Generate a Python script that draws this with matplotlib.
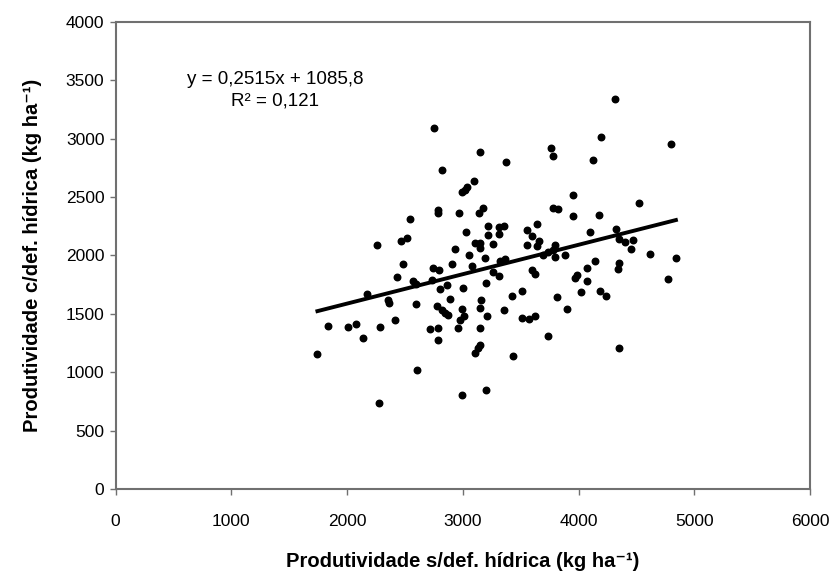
import numpy as np
import matplotlib
matplotlib.use('Agg')
import matplotlib.pyplot as plt

plt.rcParams['font.family'] = ['Liberation Sans', 'DejaVu Sans']

# produtividade sem deficit hidrico (x) e com deficit hidrico (y), kg/ha
sem_def = [1744, 1839, 2011, 2078, 2136, 2175, 2262, 2274, 2285, 2357,
           2366, 2415, 2435, 2464, 2487, 2516, 2544, 2573, 2596, 2596,
           2607, 2717, 2732, 2746, 2775, 2781, 2789, 2798, 2803, 2818,
           2847, 2875, 2752, 2818, 2781, 2781, 2968, 2995, 3015, 3035,
           3097, 3149, 3143, 3178, 4315, 3374, 3760, 3777, 4194, 4128,
           3955, 4517, 3777, 3826, 3955, 4175, 4800, 3025, 3221, 3221,
           3308, 3356, 3308, 3106, 3149, 3149, 3264, 2933, 3057, 3192,
           2904, 3077, 3322, 3365, 2867, 3264, 3316, 3201, 3005, 2892,
           3155, 3149, 2991, 3011, 2976, 2962, 3207, 3149, 3149, 3135,
           3106, 3432, 3359, 3423, 3515, 3509, 3567, 3624, 3739, 3811,
           3898, 3558, 3644, 3596, 3558, 3639, 3656, 3739, 3797, 3782,
           3797, 3883, 3696, 3596, 3624, 4094, 4143, 4071, 3984, 3970,
           4071, 4019, 4320, 4350, 4400, 4470, 4450, 4620, 4840, 4350,
           4340, 4770, 4186, 4237, 4350, 2993, 3201]
com_def = [1160, 1399, 1388, 1416, 1294, 1673, 2091, 738, 1388, 1621,
           1593, 1450, 1815, 2128, 1929, 2148, 2310, 1786, 1758, 1587,
           1017, 1371, 1792, 1892, 1570, 1280, 1379, 1872, 1713, 1536,
           1508, 1493, 3089, 2733, 2385, 2360, 2362, 2545, 2560, 2585,
           2641, 2889, 2362, 2405, 3340, 2801, 2918, 2852, 3012, 2818,
           2519, 2450, 2405, 2397, 2334, 2345, 2950, 2205, 2248, 2177,
           2243, 2254, 2185, 2111, 2111, 2063, 2100, 2055, 2006, 1978,
           1926, 1912, 1949, 1969, 1750, 1863, 1826, 1764, 1721, 1627,
           1621, 1550, 1542, 1479, 1450, 1379, 1479, 1379, 1237, 1208,
           1166, 1143, 1536, 1650, 1698, 1465, 1456, 1479, 1316, 1641,
           1542, 2220, 2265, 2168, 2091, 2083, 2128, 2034, 2091, 2049,
           1986, 2006, 2006, 1878, 1844, 2205, 1949, 1892, 1835, 1807,
           1778, 1692, 2230, 2140, 2115, 2130, 2055, 2015, 1975, 1940,
           1885, 1800, 1698, 1650, 1205, 809, 852]

a, b = 0.2515, 1085.8
eq_text = 'y = 0,2515x + 1085,8\nR² = 0,121'

fig = plt.figure(figsize=(8.37, 5.82), dpi=100)
ax = fig.add_axes([0.138, 0.159, 0.830, 0.804])

ax.scatter(sem_def, com_def, s=22, c='black', zorder=3)
xl = np.array([min(sem_def), max(sem_def)])
ax.plot(xl, a * xl + b, c='black', lw=2.8, zorder=4)

ax.set_xlim(0, 6000)
ax.set_ylim(0, 4000)
ax.set_xticks(range(0, 6001, 1000))
ax.set_yticks(range(0, 4001, 500))
for s in ax.spines.values():
    s.set_color('#707070')
    s.set_linewidth(1.5)
ax.tick_params(direction='out', length=4, width=1, color='#707070',
               labelsize=12.5)
ax.tick_params(axis='x', pad=14)
ax.tick_params(axis='y', pad=4)

ax.text(0.23, 0.853, eq_text, transform=ax.transAxes, ha='center',
        va='center', fontsize=13.5, linespacing=1.35)

ax.set_xlabel('Produtividade s/def. hídrica (kg ha⁻¹)', fontsize=14.5,
              fontweight='bold', labelpad=16)
ax.set_ylabel('Produtividade c/def. hídrica (kg ha⁻¹)', fontsize=14.5,
              fontweight='bold', labelpad=17)

fig.savefig('out.png', dpi=100)
